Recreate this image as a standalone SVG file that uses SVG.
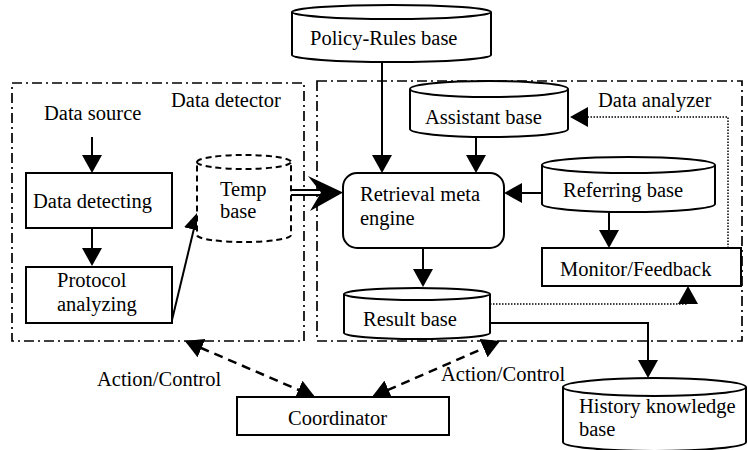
<svg xmlns="http://www.w3.org/2000/svg" width="748" height="450" viewBox="0 0 748 450">
  <style>
    text { font-family: "Liberation Serif", "Times New Roman", Times, "DejaVu Serif", serif; font-size: 20.5px; fill: #000; }
    .box { fill: #fff; stroke: #000; stroke-width: 2; }
    .cyl { fill: #fff; stroke: #000; stroke-width: 2; }
    .cyl-dash { fill: #fff; stroke: #000; stroke-width: 2; stroke-dasharray: 6 4; }
    .group { fill: none; stroke: #000; stroke-width: 1.7; stroke-dasharray: 10 4 2 4; }
    .wire { fill: none; stroke: #000; stroke-width: 2; }
    .dotted { fill: none; stroke: #000; stroke-width: 1.5; stroke-dasharray: 1.5 1.5; }
    .dashed { fill: none; stroke: #000; stroke-width: 2.5; stroke-dasharray: 9 6; }
  </style>
  <defs>
    <marker id="head" viewBox="0 0 18 20" refX="16" refY="10" markerWidth="18" markerHeight="20" markerUnits="userSpaceOnUse" orient="auto-start-reverse">
      <path d="M0,0 L18,10 L0,20 Z" fill="#000"/>
    </marker>
  </defs>

  <rect width="748" height="450" fill="#fff"/>

  <g font-family="Liberation Serif, DejaVu Serif, serif">
  <!-- subsystem frames -->
  <g id="data-detector">
    <rect class="group" x="12" y="83" width="292" height="258"/>
    <text x="171" y="107">Data detector</text>
  </g>
  <g id="data-analyzer">
    <rect class="group" x="317" y="81" width="425" height="260"/>
    <text x="598" y="107">Data analyzer</text>
  </g>

  <!-- connectors -->
  <g id="connectors">
    <line class="wire" x1="92" y1="137" x2="92" y2="171" marker-end="url(#head)"/>
    <line class="wire" x1="92" y1="228" x2="92" y2="264" marker-end="url(#head)"/>
    <line class="wire" x1="172" y1="320" x2="197.5" y2="214" marker-end="url(#head)"/>
    <!-- double-line transfer arrow -->
    <line x1="291" y1="192.5" x2="320" y2="192.5" stroke="#000" stroke-width="7"/>
    <line x1="290" y1="192.5" x2="321" y2="192.5" stroke="#fff" stroke-width="3"/>
    <path d="M308,176 L343,192.5 L310,211 L321,192.5 Z" fill="#000"/>
    <line class="wire" x1="382" y1="62" x2="382" y2="171" marker-end="url(#head)"/>
    <line class="wire" x1="476" y1="137" x2="476" y2="171" marker-end="url(#head)"/>
    <line class="wire" x1="542" y1="193" x2="506" y2="193" marker-end="url(#head)"/>
    <line class="wire" x1="609" y1="212" x2="609" y2="246" marker-end="url(#head)"/>
    <line class="wire" x1="423" y1="248" x2="423" y2="285" marker-end="url(#head)"/>
    <polyline class="wire" points="490,323 648,323 648,376" marker-end="url(#head)"/>
    <polyline class="dotted" points="490,304 688,304 688,288" marker-end="url(#head)"/>
    <polyline class="dotted" points="728,248 728,117 572,117" marker-end="url(#head)"/>
    <line class="dashed" x1="186.8" y1="341.8" x2="313.2" y2="396.2" marker-start="url(#head)" marker-end="url(#head)"/>
    <line class="dashed" x1="373.8" y1="396.2" x2="498.2" y2="341.8" marker-start="url(#head)" marker-end="url(#head)"/>
  </g>

  <!-- nodes -->
  <g id="data-source">
    <text x="44" y="120">Data source</text>
  </g>
  <g id="data-detecting">
    <rect class="box" x="26" y="173" width="146" height="55"/>
    <text x="33" y="208">Data detecting</text>
  </g>
  <g id="protocol-analyzing">
    <rect class="box" x="26" y="267" width="146" height="56"/>
    <text x="57" y="287">Protocol</text>
    <text x="57" y="311">analyzing</text>
  </g>
  <g id="temp-base">
    <path class="cyl-dash" d="M197,162 A47,7 0 0 1 291,162 L291,235 A47,7 0 0 1 197,235 Z"/>
    <path class="cyl-dash" d="M197,162 A47,7 0 0 0 291,162" fill="none"/>
    <text x="220" y="196">Temp</text>
    <text x="220" y="218">base</text>
  </g>
  <g id="policy-rules-base">
    <path class="cyl" d="M292,12 A99.5,7 0 0 1 491,12 L491,55 A99.5,7 0 0 1 292,55 Z"/>
    <path class="cyl" d="M292,12 A99.5,7 0 0 0 491,12" fill="none"/>
    <text x="310" y="45">Policy-Rules base</text>
  </g>
  <g id="assistant-base">
    <path class="cyl" d="M410,89 A79,8 0 0 1 568,89 L568,129 A79,8 0 0 1 410,129 Z"/>
    <path class="cyl" d="M410,89 A79,8 0 0 0 568,89" fill="none"/>
    <text x="425" y="124">Assistant base</text>
  </g>
  <g id="retrieval-meta-engine">
    <rect class="box" x="343" y="173" width="161" height="75" rx="14"/>
    <text x="360" y="201">Retrieval meta</text>
    <text x="360" y="225">engine</text>
  </g>
  <g id="referring-base">
    <path class="cyl" d="M542,165 A86.5,8 0 0 1 715,165 L715,204 A86.5,8 0 0 1 542,204 Z"/>
    <path class="cyl" d="M542,165 A86.5,8 0 0 0 715,165" fill="none"/>
    <text x="563" y="197">Referring base</text>
  </g>
  <g id="monitor-feedback">
    <rect class="box" x="542" y="248" width="199" height="38"/>
    <text x="560" y="276">Monitor/Feedback</text>
  </g>
  <g id="result-base">
    <path class="cyl" d="M344,294 A73,6 0 0 1 490,294 L490,333 A73,6 0 0 1 344,333 Z"/>
    <path class="cyl" d="M344,294 A73,6 0 0 0 490,294" fill="none"/>
    <text x="363" y="326">Result base</text>
  </g>
  <g id="history-knowledge-base">
    <path class="cyl" d="M563,387 A91.5,9 0 0 1 746,387 L746,442 A91.5,9 0 0 1 563,442 Z"/>
    <path class="cyl" d="M563,387 A91.5,9 0 0 0 746,387" fill="none"/>
    <text x="579" y="413">History knowledge</text>
    <text x="579" y="436">base</text>
  </g>
  <g id="coordinator">
    <rect class="box" x="237" y="397" width="212" height="38"/>
    <text x="288" y="425">Coordinator</text>
  </g>
  <g id="labels">
    <text x="97" y="386">Action/Control</text>
    <text x="441" y="381">Action/Control</text>
  </g>
  </g>
</svg>
